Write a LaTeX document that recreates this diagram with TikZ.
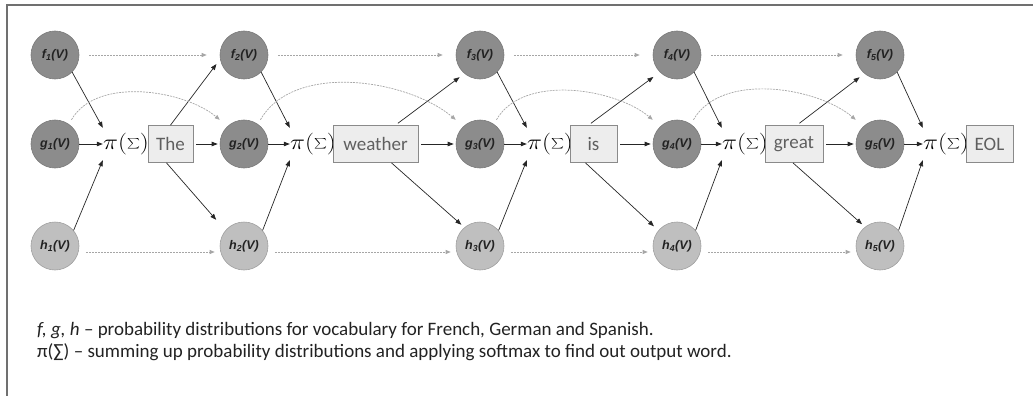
\documentclass[tikz,border=0pt]{standalone}
\usepackage{graphicx}
\usepackage{fontspec}
\setmainfont{Carlito}
\newfontfamily\labelfont{Liberation Sans}
\usetikzlibrary{arrows.meta}

\definecolor{cdark}{HTML}{8C8C8C}
\definecolor{cdarkline}{HTML}{7A7A7A}
\definecolor{clight}{HTML}{BFBFBF}
\definecolor{clightline}{HTML}{A0A0A0}
\definecolor{boxfill}{HTML}{EDEDED}
\definecolor{boxline}{HTML}{8A8A8A}
\definecolor{boxtext}{HTML}{5F5F5F}
\definecolor{dotgray}{HTML}{A6A6A6}
\definecolor{framegray}{HTML}{707070}
\definecolor{textblack}{HTML}{222222}

\newcommand{\softsum}{\scalebox{1.22}[1.05]{$\pi(\sum)$}}

\begin{document}
\begin{tikzpicture}[x=1pt,y=1pt,
  circ/.style={circle, minimum size=48pt, inner sep=0pt, line width=0.6pt,
    font=\labelfont\bfseries\itshape\fontsize{12.5}{14}\selectfont, text=textblack},
  fgc/.style={circ, fill=cdark, draw=cdarkline},
  hc/.style={circ, fill=clight, draw=clightline},
  word/.style={rectangle, fill=boxfill, draw=boxline, line width=0.8pt,
    minimum height=37pt, inner sep=0pt, text=boxtext, font=\fontsize{19}{20}\selectfont},
  pinode/.style={inner sep=0pt, minimum height=32pt, minimum width=46pt, font=\fontsize{20}{22}\selectfont},
  link/.style={draw=black!85, line width=0.7pt, -{Triangle[length=6pt,width=4.5pt]}},
  faint/.style={draw=dotgray, line width=0.7pt, dash pattern=on 2pt off 1pt,
    -{Triangle[length=5pt,width=4pt]}},
  note/.style={anchor=base west, inner sep=0pt, text=textblack, font=\fontsize{19}{22}\selectfont},
]
\useasboundingbox (0,0) rectangle (1033,-396);

% frame
\draw[framegray, line width=1.2pt] (7,-396) -- (7,-5) -- (1033,-5);

% distribution nodes for French (f), German (g) and Spanish (h)
\foreach \i/\x in {1/55,2/244,3/480,4/677,5/880} {
  \node[fgc] (f\i) at (\x,-55)  {f\textsubscript{\i}(V)};
  \node[fgc] (g\i) at (\x,-144) {g\textsubscript{\i}(V)};
  \node[hc]  (h\i) at (\x,-246) {h\textsubscript{\i}(V)};
}

% summation + softmax
\foreach \i/\x in {1/126,2/313,3/550,4/745,5/946}
  \node[pinode] (pi\i) at (\x,-144) {\softsum};

% output words
\node[word, minimum width=45pt] (w1) at (170.5,-144) {The};
\node[word, minimum width=85pt] (w2) at (375.5,-144) {weather};
\node[word, minimum width=47pt] (w3) at (593.5,-144) {is};
\node[word, minimum width=58pt] (w4) at (794,-144)   {great};
\node[word, minimum width=47pt] (w5) at (989.5,-144) {EOL};

% distributions into the summation
\foreach \i in {1,...,5} {
  \draw[link] (f\i.-45) -- (pi\i.north west);
  \draw[link] (g\i) -- (pi\i.west);
  \draw[link] (h\i.40) -- (pi\i.south west);
}

% each word feeds the next step
\draw[link, shorten >=6pt] (w1.north) -- (f2.190);
\draw[link, shorten >=14pt] ([xshift=-4pt]w1.south) -- (h2.140);
\draw[link, shorten <=3pt, shorten >=6pt] ([xshift=20pt]w2.north) -- (f3.230);
\draw[link, shorten >=4pt] ([xshift=16pt]w2.south) -- (h3.130);
\draw[link, shorten <=3pt, shorten >=8pt] ([xshift=-5pt]w3.north) -- (f4.225);
\draw[link, shorten >=6pt] ([xshift=-8pt]w3.south) -- (h4.140);
\draw[link, shorten <=3pt, shorten >=6pt] ([xshift=3pt]w4.north) -- (f5.230);
\draw[link, shorten >=4pt] ([xshift=-1pt]w4.south) -- (h5.128);
\foreach \i/\j in {1/2,2/3,3/4,4/5}
  \draw[link, shorten <=3pt, shorten >=2pt] (w\i.east) -- (g\j.west);

% carried-over states
\foreach \i/\j in {1/2,2/3,3/4,4/5} {
  \draw[faint, shorten <=10pt, shorten >=13pt] (f\i.east) -- (f\j.west);
  \draw[faint, shorten <=7pt, shorten >=5pt] ([yshift=-6pt]h\i.east) -- ([yshift=-6pt]h\j.west);
  \draw[faint, shorten <=5pt, shorten >=10pt] (g\i.55) to[out=60,in=140,looseness=0.9] (g\j.133);
}

% legend
\node[note] (legend1) at (37,-335)
  {\textit{f, g, h} – probability distributions for vocabulary for French, German and Spanish.};
\node[note] (legend2) at (37,-357)
  {π(∑) – summing up probability distributions and applying softmax to find out output word.};
\end{tikzpicture}
\end{document}
